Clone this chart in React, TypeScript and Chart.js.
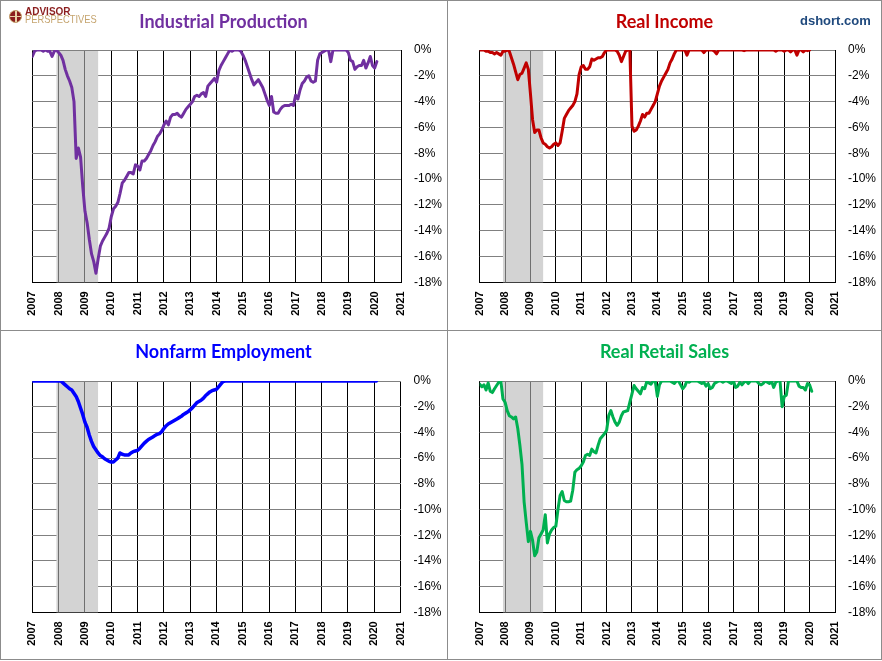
import React, { useEffect, useRef } from 'react';
import { Chart, registerables } from 'chart.js';

Chart.register(...registerables);

const START_YEAR = 2007;
const YEAR_MIN = 2007;
const YEAR_MAX = 2021;
const PCT_MIN = -18;
const PCT_MAX = 0;
const RECESSION_START = 2007 + 11 / 12;
const RECESSION_END = 2009 + 6 / 12;
const RECESSION_YEAR_LINES = [2008, 2009];

// Monthly drawdown from prior peak (%), Jan 2007 onward
const INDUSTRIAL_PRODUCTION = [
  -0.5, -0.1, 0, 0, 0, -0.1, 0, -0.1, -0.1, -0.5, -0.1, 0,
  -0.2, -0.4, -0.8, -1.5, -2.0, -2.4, -2.9, -4.0, -8.4, -7.6, -8.3, -10.6,
  -12.5, -13.4, -14.7, -15.8, -16.4, -17.3, -16.2, -15.2, -14.8, -14.5, -14.2, -13.8,
  -12.9, -12.3, -12.1, -11.8, -11.1, -10.3, -10.1, -9.8, -9.5, -9.5, -9.6, -8.9,
  -9.0, -9.3, -8.6, -8.6, -8.4, -8.1, -7.8, -7.4, -7.1, -6.7, -6.5, -6.2,
  -5.8, -5.5, -5.8, -5.2, -5.0, -5.0, -4.9, -5.1, -5.2, -4.9, -4.6, -4.4,
  -4.2, -4.0, -3.6, -3.5, -3.6, -3.4, -3.3, -3.6, -2.8, -2.6, -2.4, -2.2,
  -2.5, -1.6, -1.2, -0.9, -0.6, -0.3, 0, -0.1, 0, 0, 0, -0.1,
  -0.4, -0.8, -1.3, -1.8, -2.3, -2.7, -2.5, -2.3, -2.6, -2.9, -3.4, -3.9,
  -4.3, -3.6, -4.8, -4.9, -4.9, -4.6, -4.4, -4.3, -4.3, -4.3, -4.2, -4.3,
  -3.5, -3.8, -3.1, -2.6, -2.4, -2.1, -2.0, -2.4, -2.5, -2.4, -0.8, -0.3,
  -0.2, -0.1, 0, 0, -0.9, 0, 0, 0, 0, 0, 0, 0,
  -0.2, -0.8, -0.9, -1.5, -1.3, -1.2, -1.2, -0.8, -1.4, -1.0, -0.5, -1.2,
  -1.4, -0.9,
];

const REAL_INCOME = [
  0, 0, 0, -0.1, -0.1, -0.2, -0.2, -0.3, -0.2, -0.3, -0.4, -0.1,
  -0.1, 0, -0.1, -0.6, -1.1, -1.7, -2.3, -1.9, -1.8, -1.4, -1.0, -1.5,
  -3.4, -5.4, -6.4, -6.2, -6.2, -6.8, -7.2, -7.3, -7.5, -7.6, -7.5, -7.3,
  -7.2, -7.4, -7.2, -6.3, -5.3, -5.0, -4.7, -4.5, -4.3, -4.0, -3.4, -1.9,
  -1.3, -1.2, -1.5, -1.5, -1.3, -0.7, -0.8, -0.7, -0.6, -0.6, -0.5, -0.2,
  0, 0, 0, 0, 0, -0.1, -0.4, -0.9, -0.5, -0.1, 0, 0,
  -5.9, -6.3, -6.2, -5.9, -5.5, -5.0, -5.2, -4.9, -4.9, -4.6, -4.3, -4.0,
  -3.4, -2.8, -2.4, -2.1, -1.8, -1.5, -1.0, -0.7, -0.3, 0, 0, 0,
  0, 0, -0.4, 0, 0, 0, 0, 0, 0, 0, -0.2, 0,
  0, 0, 0, -0.1, -0.3, 0, 0, 0, 0, 0, 0, 0,
  0, 0, 0, 0, 0, -0.05, 0, 0, 0, 0, 0, 0,
  0, 0, 0, 0, 0, 0, 0, 0, -0.1, 0, 0, 0,
  -0.1, 0, 0, -0.15, 0, 0, -0.4, 0, 0, -0.15, 0, -0.05,
  0,
];

const NONFARM_EMPLOYMENT = [
  0, 0, 0, 0, 0, 0, 0, 0, 0, 0, 0, 0,
  0, 0, -0.15, -0.3, -0.45, -0.6, -0.7, -0.95, -1.2, -1.6, -2.1, -2.6,
  -3.2, -3.6, -4.2, -4.7, -5.1, -5.35, -5.6, -5.8, -5.9, -6.05, -6.15, -6.25,
  -6.3, -6.3, -6.15, -6.0, -5.6, -5.7, -5.75, -5.75, -5.75, -5.6, -5.5, -5.45,
  -5.4, -5.25, -5.05, -4.85, -4.7, -4.55, -4.45, -4.35, -4.25, -4.15, -4.1, -3.95,
  -3.7, -3.5, -3.35, -3.25, -3.15, -3.05, -2.95, -2.85, -2.75, -2.6, -2.5, -2.4,
  -2.25, -2.1, -1.9, -1.7, -1.6, -1.5, -1.35, -1.15, -1.0, -0.85, -0.75, -0.7,
  -0.65, -0.45, -0.25, -0.05, 0, 0, 0, 0, 0, 0, 0, 0,
  0, 0, 0, 0, 0, 0, 0, 0, 0, 0, 0, 0,
  0, 0, 0, 0, 0, 0, 0, 0, 0, 0, 0, 0,
  0, 0, 0, 0, 0, 0, 0, 0, 0, 0, 0, 0,
  0, 0, 0, 0, 0, 0, 0, 0, 0, 0, 0, 0,
  0, 0, 0, 0, 0, 0, 0, 0, 0, 0, 0, 0,
  0, 0,
];

const REAL_RETAIL_SALES = [
  -0.25, -0.45, -0.3, -0.7, -0.15, -0.8, -0.9, -0.6, -0.35, -0.1, 0, -1.4,
  -1.65, -2.3, -2.7, -2.8, -2.95, -2.8, -3.7, -5.0, -6.5, -9.4, -11.0, -12.5,
  -11.7, -12.4, -13.6, -13.3, -12.2, -11.9, -11.6, -10.4, -12.6, -11.9, -11.6, -11.4,
  -11.3, -10.0, -8.9, -8.6, -9.3, -9.4, -9.4, -9.35, -8.5, -7.1, -6.9, -6.8,
  -6.6, -6.3, -5.8, -5.7, -5.8, -5.3, -5.5, -5.6, -5.0, -4.5, -4.3, -4.1,
  -3.85, -2.7, -2.3, -2.8, -3.2, -3.45, -3.2, -2.7, -2.4, -2.35, -2.3, -1.65,
  -1.0, -0.35, -0.6, -0.8, -1.0, -0.5, -0.6, -0.05, -0.15, -0.25, 0, 0,
  -1.2, -0.3, 0, 0, 0, 0, 0, -0.1, -0.2, 0, 0, -0.3,
  -0.6, -0.4, 0, -0.1, 0, 0, 0, 0, -0.1, -0.2, -0.1, -0.4,
  -0.2, -0.6, -0.5, -0.2, -0.1, 0, 0, -0.1, 0, 0, -0.1, -0.2,
  0, -0.5, -0.4, -0.1, -0.3, -0.1, 0, -0.2, 0, 0, 0, 0,
  -0.2, -0.3, -0.2, 0, -0.1, -0.2, 0, -0.5, -0.1, 0, 0, -2.0,
  -1.2, -1.1, 0, 0, 0, 0, 0, -0.4, -0.5, -0.5, -0.7, -0.2,
  -0.3, -0.8,
];

type PanelProps = {
  left: number;
  top: number;
  width: number;
  height: number;
  title: string;
  color: string;
  values: number[];
  plotLeft: number;
  plotRight: number;
  plotTop: number;
  plotBottom: number;
  lineWidth: number;
};

const alignPixel = (p: number) => Math.round(p - 0.5) + 0.5;

const recessionPlugin = {
  id: 'recessionShade',
  beforeDatasetsDraw(chart: any) {
    const { ctx, chartArea, scales } = chart;
    const x = scales.x;
    const x0 = x.getPixelForValue(RECESSION_START);
    const x1 = x.getPixelForValue(RECESSION_END);
    ctx.save();
    ctx.fillStyle = '#D3D3D3';
    ctx.fillRect(x0, chartArea.top + 1, x1 - x0, chartArea.bottom - chartArea.top - 1);
    ctx.strokeStyle = '#6f6f6f';
    ctx.lineWidth = 1;
    RECESSION_YEAR_LINES.forEach((yr) => {
      const px = alignPixel(x.getPixelForValue(yr));
      ctx.beginPath();
      ctx.moveTo(px, chartArea.top + 1);
      ctx.lineTo(px, chartArea.bottom);
      ctx.stroke();
    });
    ctx.restore();
  },
};

function Panel(props: PanelProps) {
  const ref = useRef<HTMLCanvasElement | null>(null);
  useEffect(() => {
    if (!ref.current) return;
    const titleSize = 18;
    const titleLine = titleSize * 1.2;
    const titleTopPad = 11;
    const titleBottomPad = props.plotTop - titleTopPad - titleLine;
    const chart = new Chart(ref.current, {
      type: 'line',
      data: {
        datasets: [
          {
            data: props.values.map((v, i) => ({ x: START_YEAR + i / 12, y: v })),
            borderColor: props.color,
            backgroundColor: props.color,
            borderWidth: props.lineWidth,
            pointRadius: 0,
            tension: 0,
            fill: false,
            borderJoinStyle: 'round',
            borderCapStyle: 'round',
          },
        ],
      },
      options: {
        animation: false,
        responsive: false,
        maintainAspectRatio: false,
        layout: { padding: 0 },
        plugins: {
          legend: { display: false },
          tooltip: { enabled: false },
          title: {
            display: true,
            text: props.title,
            color: props.color,
            font: { family: 'Lato', weight: 'bold', size: titleSize, lineHeight: 1.2 },
            padding: { top: titleTopPad, bottom: titleBottomPad },
          },
        },
        scales: {
          x: {
            type: 'linear',
            position: 'bottom',
            min: YEAR_MIN,
            max: YEAR_MAX,
            ticks: {
              stepSize: 1,
              minRotation: 90,
              maxRotation: 90,
              padding: 9,
              color: '#000',
              font: { family: 'Liberation Sans', weight: 'bold', size: 11 },
              callback: (v: any) => String(v),
            },
            grid: { color: '#000', lineWidth: 1, drawTicks: false },
            border: { display: true, color: '#000' },
            afterFit: (s: any) => {
              s.height = props.height - props.plotBottom;
            },
          },
          y: {
            type: 'linear',
            position: 'right',
            min: PCT_MIN,
            max: PCT_MAX,
            ticks: {
              stepSize: 2,
              padding: 13,
              color: '#000',
              font: { family: 'Liberation Sans', size: 12 },
              callback: (v: any) => `${v}%`,
            },
            grid: {
              color: (c: any) => (c.tick && c.tick.value === PCT_MIN ? '#000' : '#808080'),
              lineWidth: 1,
              drawTicks: false,
            },
            border: { display: false },
            afterFit: (s: any) => {
              s.width = props.width - props.plotRight;
            },
          },
          yl: {
            type: 'linear',
            position: 'left',
            display: true,
            ticks: { display: false },
            grid: { display: false, drawTicks: false },
            border: { display: false },
            afterFit: (s: any) => {
              s.width = props.plotLeft;
            },
          },
        },
      } as any,
      plugins: [recessionPlugin],
    });
    return () => chart.destroy();
  }, []);
  return (
    <canvas
      ref={ref}
      width={props.width}
      height={props.height}
      style={{ position: 'absolute', left: props.left, top: props.top, width: props.width, height: props.height }}
    />
  );
}

const FRAME = '#8c8c8c';

export default function App() {
  return (
    <div style={{ position: 'absolute', left: 0, top: 0, width: 882, height: 661, background: '#fff', overflow: 'hidden' }}>
      {/* frame */}
      <div style={{ position: 'absolute', left: 0, top: 0, width: 882, height: 660, border: `1px solid ${FRAME}`, boxSizing: 'border-box', pointerEvents: 'none' }} />
      <div style={{ position: 'absolute', left: 447, top: 0, width: 1, height: 660, background: FRAME }} />
      <div style={{ position: 'absolute', left: 0, top: 330, width: 882, height: 1, background: FRAME }} />

      <Panel left={0} top={0} width={447} height={330} title="Industrial Production" color="#7030A0"
        values={INDUSTRIAL_PRODUCTION} plotLeft={32.3} plotRight={401} plotTop={50} plotBottom={282.3} lineWidth={3} />
      <Panel left={447} top={0} width={435} height={330} title="Real Income" color="#C00000"
        values={REAL_INCOME} plotLeft={32.7} plotRight={388} plotTop={50} plotBottom={282.3} lineWidth={3} />
      <Panel left={0} top={330} width={447} height={331} title="Nonfarm Employment" color="#0000FF"
        values={NONFARM_EMPLOYMENT} plotLeft={32.3} plotRight={400.5} plotTop={51} plotBottom={282.3} lineWidth={3.5} />
      <Panel left={447} top={330} width={435} height={331} title="Real Retail Sales" color="#00B050"
        values={REAL_RETAIL_SALES} plotLeft={32.7} plotRight={388} plotTop={51} plotBottom={282.3} lineWidth={3} />

      {/* logo */}
      <div style={{ position: 'absolute', left: 9, top: 9.5, width: 13, height: 13, borderRadius: '50%', background: '#8B1E1E', border: '1px solid #C5A46E', boxSizing: 'border-box' }}>
        <div style={{ position: 'absolute', left: 5, top: 0, width: 1.5, height: 11, background: '#E8D2A6' }} />
        <div style={{ position: 'absolute', left: 0, top: 5, width: 11, height: 1.5, background: '#E8D2A6' }} />
      </div>
      <div style={{ position: 'absolute', left: 25, top: 6.7, fontFamily: 'Liberation Sans', fontWeight: 'bold', fontSize: 10, lineHeight: '10px', color: '#8B1E1E', whiteSpace: 'nowrap' }}>
        ADVISOR
      </div>
      <div style={{ position: 'absolute', left: 25, top: 14, fontFamily: 'Liberation Sans', fontSize: 11, lineHeight: '11px', color: '#C5A46E', whiteSpace: 'nowrap', transform: 'scaleX(0.85)', transformOrigin: 'left top' }}>
        PERSPECTIVES
      </div>
      <div style={{ position: 'absolute', left: 800, top: 13.5, fontFamily: 'Liberation Sans', fontWeight: 'bold', fontSize: 13, lineHeight: '13px', color: '#1F497D', whiteSpace: 'nowrap' }}>
        dshort.com
      </div>
    </div>
  );
}
